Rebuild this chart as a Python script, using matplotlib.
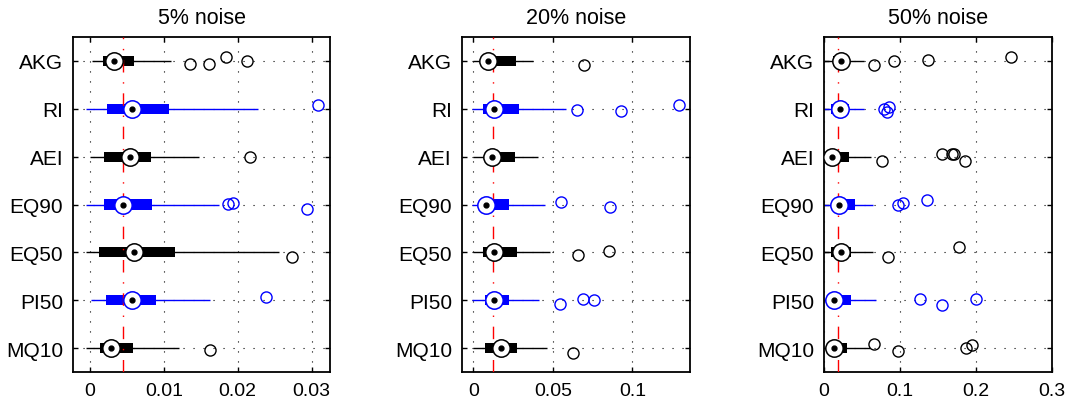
import numpy as np
import matplotlib
matplotlib.use('Agg')
from matplotlib import pyplot as plt

plt.rcParams['font.family'] = ['Liberation Sans', 'DejaVu Sans']

# row labels, top to bottom
methods = ['AKG', 'RI', 'AEI', 'EQ90', 'EQ50', 'PI50', 'MQ10']
row_colors = ['black', 'blue', 'black', 'blue', 'black', 'blue', 'black']

titles = ['5% noise', '20% noise', '50% noise']

# 5% noise
lo_05 = [0.0002, -0.0005, 0.0, -0.0006, -0.0006, 0.0001, -0.0006]
q1_05 = [0.0018, 0.0023, 0.0019, 0.0019, 0.0012, 0.0022, 0.0014]
med_05 = [0.0033, 0.0057, 0.0054, 0.0045, 0.0060, 0.0057, 0.0029]
q3_05 = [0.0060, 0.0107, 0.0083, 0.0084, 0.0115, 0.0089, 0.0058]
hi_05 = [0.0110, 0.0228, 0.0147, 0.0174, 0.0256, 0.0163, 0.0121]
out_05 = [[0.0135, 0.0161, 0.0184, 0.0212], [0.0309], [0.0217],
          [0.0187, 0.0194, 0.0294], [0.0273], [0.0238], [0.0163]]
jit_05 = [[0.06, 0.06, -0.09, 0.0], [-0.08], [0.0],
          [-0.02, -0.04, 0.10], [0.09], [-0.06], [0.04]]
ref_05 = 0.0045

# 20% noise
lo_20 = [0.0, -0.0008, 0.0, -0.0008, 0.0, -0.0008, 0.0]
q1_20 = [0.0060, 0.0063, 0.0094, 0.0042, 0.0063, 0.0074, 0.0072]
med_20 = [0.0090, 0.0130, 0.0117, 0.0082, 0.0132, 0.0128, 0.0172]
q3_20 = [0.0269, 0.0286, 0.0264, 0.0227, 0.0273, 0.0222, 0.0277]
hi_20 = [0.0373, 0.0581, 0.0409, 0.0451, 0.0482, 0.0413, 0.0465]
out_20 = [[0.0698], [0.0650, 0.0929, 0.1294], [],
          [0.0552, 0.0862], [0.0657, 0.0854], [0.0547, 0.0692, 0.0757], [0.0625]]
jit_20 = [[0.09], [0.03, 0.04, -0.07], [],
          [-0.05, 0.06], [0.06, -0.035], [0.08, -0.03, 0.0], [0.10]]
ref_20 = 0.0122

# 50% noise
lo_50 = [0.0, 0.0, 0.0, 0.0, 0.0, 0.0, 0.0]
q1_50 = [0.0123, 0.0088, 0.0080, 0.0120, 0.0092, 0.0100, 0.0100]
med_50 = [0.0220, 0.0210, 0.0110, 0.0200, 0.0228, 0.0132, 0.0132]
q3_50 = [0.0280, 0.0333, 0.0333, 0.0408, 0.0350, 0.0350, 0.0307]
hi_50 = [0.0526, 0.0526, 0.0614, 0.0649, 0.0645, 0.0684, 0.0605]
out_50 = [[0.0658, 0.0917, 0.1373, 0.2456], [0.0790, 0.0825, 0.0850],
          [0.0768, 0.1548, 0.1680, 0.1702, 0.1855], [0.0978, 0.1044, 0.1360],
          [0.0846, 0.1776], [0.1259, 0.1548, 0.1996], [0.0658, 0.0978, 0.1860, 0.1943]]
jit_50 = [[0.08, 0.0, -0.02, -0.08], [0.0, 0.07, -0.03],
          [0.10, -0.05, -0.06, -0.06, 0.09], [0.0, -0.035, -0.10],
          [0.10, -0.11], [-0.03, 0.10, -0.03], [-0.09, 0.07, 0.0, -0.06]]
ref_50 = 0.0189

xlims = [(-0.0023, 0.0325), (-0.0073, 0.1363), (0.0, 0.3)]
xticks = [[0, 0.01, 0.02, 0.03], [0, 0.05, 0.1], [0, 0.1, 0.2, 0.3]]
xticklabels = [['0', '0.01', '0.02', '0.03'], ['0', '0.05', '0.1'], ['0', '0.1', '0.2', '0.3']]

panels = [
    (lo_05, q1_05, med_05, q3_05, hi_05, out_05, jit_05, ref_05),
    (lo_20, q1_20, med_20, q3_20, hi_20, out_20, jit_20, ref_20),
    (lo_50, q1_50, med_50, q3_50, hi_50, out_50, jit_50, ref_50),
]

# axes boxes in figure fraction (left, bottom, width, height)
positions = [[0.0684, 0.0721, 0.2406, 0.8333],
             [0.4323, 0.0721, 0.2138, 0.8333],
             [0.7715, 0.0721, 0.2138, 0.8333]]

fig = plt.figure(figsize=(10.68, 4.02), dpi=100)

for k, (lo, q1, med, q3, hi, outs, jits, ref) in enumerate(panels):
    ax = fig.add_axes(positions[k])
    ypos = np.arange(1, len(methods) + 1)

    for i, y in enumerate(ypos):
        c = row_colors[i]
        # whisker
        ax.hlines(y, lo[i], hi[i], color=c, lw=1, zorder=2)
        # thick box
        ax.barh(y, q3[i] - q1[i], left=q1[i], height=0.21, color=c, zorder=3)
        # outliers
        if outs[i]:
            ax.plot(outs[i], y + np.array(jits[i]), 'o', ms=8, mfc='none',
                    mec=c, mew=1, zorder=5)

    # reference line
    ax.axvline(ref, color='red', lw=1, dashes=(9, 7, 1, 7), zorder=4)

    # median markers on top
    for i, y in enumerate(ypos):
        ax.plot(med[i], y, 'o', ms=12.5, mfc='white', mec=row_colors[i], mew=1.1, zorder=6)
        ax.plot(med[i], y, 'o', ms=3.5, color='black', zorder=7)

    ax.set_xlim(*xlims[k])
    ax.set_ylim(7.5, 0.5)
    ax.set_xticks(xticks[k])
    ax.set_xticklabels(xticklabels[k], fontsize=14)
    ax.set_yticks(ypos)
    ax.set_yticklabels(methods, fontsize=15)
    ax.tick_params(direction='in', top=True, right=True, length=3.5,
                   pad=7, width=1)
    ax.set_axisbelow(True)
    ax.grid(True, linestyle=(0, (1, 8)), color='black', lw=0.8)
    for sp in ax.spines.values():
        sp.set_linewidth(1.3)
    ax.set_title(titles[k], fontsize=15.5, pad=10)

fig.savefig('out.png', dpi=100)
